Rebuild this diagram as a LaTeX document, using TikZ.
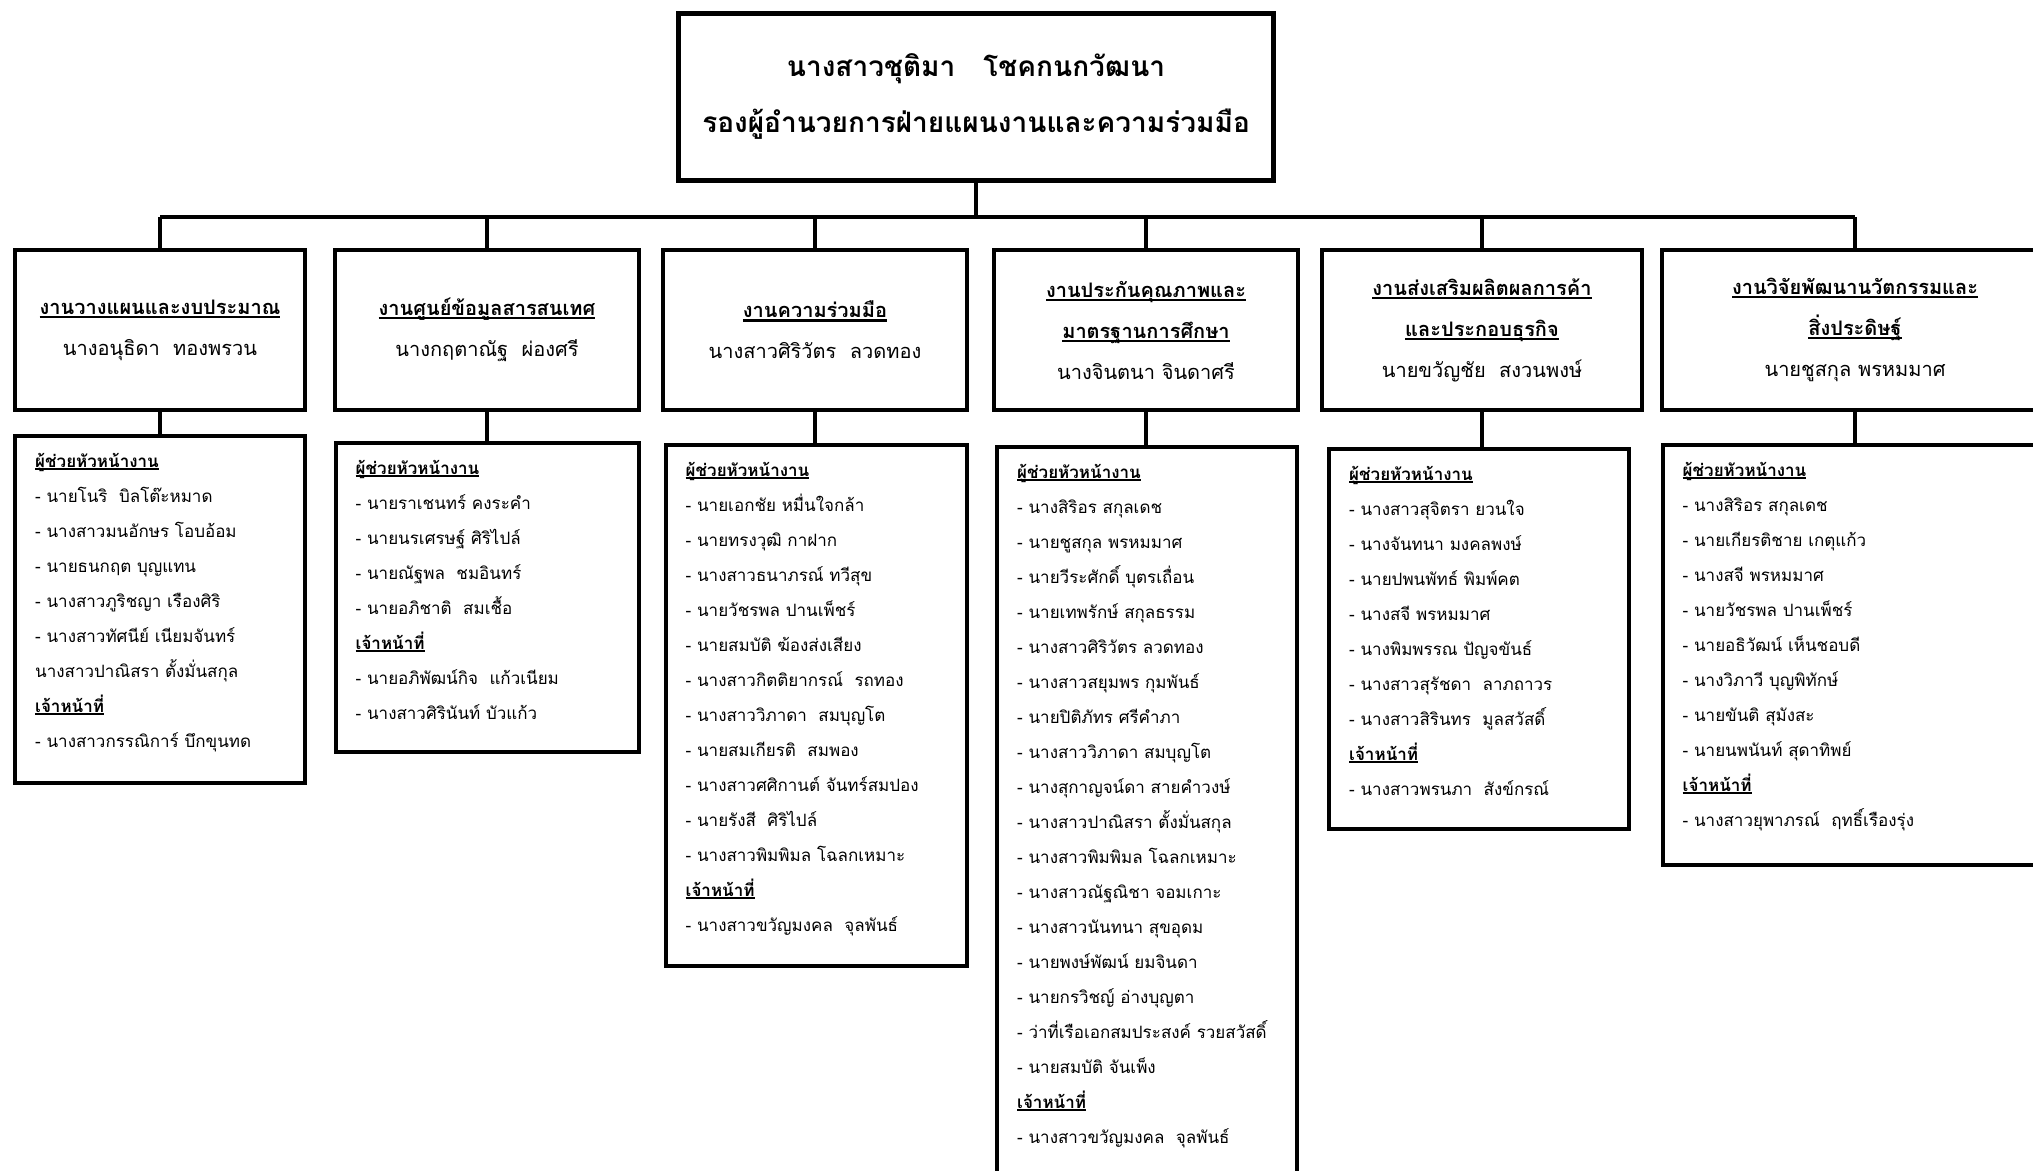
\documentclass[tikz,border=0pt]{standalone}
\usepackage{fontspec}
\newfontfamily\thai[Script=Thai]{Loma}
\newsavebox\ulbox
\newcommand\thul[1]{\leavevmode\sbox\ulbox{\bfseries #1}\rlap{\vrule height -0.08em depth 0.19em width \wd\ulbox}\usebox\ulbox}
\newcommand\topfont{\fontsize{28}{56}\selectfont\thai\bfseries}
\newcommand\secfont{\fontsize{20}{41}\selectfont\thai}
\newcommand\listfont{\fontsize{17}{35}\selectfont\thai}
\tikzset{
  conn/.style={line width=4pt},
  topbox/.style={draw, line width=5pt, minimum width=595pt, minimum height=167pt, inner sep=0pt, align=center, font=\topfont},
  secbox/.style={draw, line width=4pt, inner sep=0pt, minimum height=160pt, align=center, font=\secfont},
  listbox/.style={draw, line width=4pt, inner sep=0pt},
  listtext/.style={anchor=base west, inner sep=0pt, font=\listfont},
}
\newcommand\lst[1]{\parbox[t]{360pt}{\listfont #1}}
\begin{document}
\begin{tikzpicture}[x=1pt,y=-1pt]
\fill[white] (0,0) rectangle (2033,1170);
\useasboundingbox (0,0) rectangle (2033,1170);
% top
\node[topbox] (top) at (976,96.5) {นางสาวชุติมา\quad โชคกนกวัฒนา\\รองผู้อำนวยการฝ่ายแผนงานและความร่วมมือ};
\coordinate (bus) at (0,217);
% sections
\node[secbox, minimum width=290pt] (s1) at (160,330) {\thul{งานวางแผนและงบประมาณ}\\นางอนุธิดา\ \ ทองพรวน};
\node[secbox, minimum width=304pt] (s2) at (487,330) {\thul{งานศูนย์ข้อมูลสารสนเทศ}\\นางกฤตาณัฐ\ \ ผ่องศรี};
\node[secbox, minimum width=304pt] (s3) at (815,330) {\thul{งานความร่วมมือ}\\นางสาวศิริวัตร\ \ ลวดทอง};
\node[secbox, minimum width=304pt] (s4) at (1146,330) {\thul{งานประกันคุณภาพและ}\\\thul{มาตรฐานการศึกษา}\\นางจินตนา\ จินดาศรี};
\node[secbox, minimum width=320pt] (s5) at (1482,330) {\thul{งานส่งเสริมผลิตผลการค้า}\\\thul{และประกอบธุรกิจ}\\นายขวัญชัย\ \ สงวนพงษ์};
\node[secbox, minimum width=386pt] (s6) at (1855,330) {\thul{งานวิจัยพัฒนานวัตกรรมและ}\\\thul{สิ่งประดิษฐ์}\\นายชูสกุล พรหมมาศ};
% connectors top
\draw[conn] (top.south) -- (top.south |- bus);
\draw[conn] (s1.north |- bus) -- (s6.north |- bus);
\foreach \s in {s1,s2,s3,s4,s5,s6} \draw[conn] (\s.north) -- (\s.north |- bus);
% list boxes
\node[listbox, minimum width=290pt, minimum height=347pt] (l1) at (160,609.5) {};
\node[listbox, minimum width=303pt, minimum height=309pt] (l2) at (487,597.5) {};
\node[listbox, minimum width=301pt, minimum height=521pt] (l3) at (816,705.5) {};
\node[listbox, minimum width=300pt, minimum height=738pt] (l4) at (1147,816) {};
\node[listbox, minimum width=300pt, minimum height=380pt] (l5) at (1479,639) {};
\node[listbox, minimum width=387pt, minimum height=420pt] (l6) at (1856,655) {};
\foreach \s/\l in {s1/l1,s2/l2,s3/l3,s4/l4,s5/l5,s6/l6} \draw[conn] (\s.south) -- (\s.south |- \l.north);
% list texts
\node[listtext] (t1) at ([xshift=22pt,yshift=-33pt]l1.north west) {\lst{\thul{ผู้ช่วยหัวหน้างาน}\\
- นายโนริ\ \ บิลโต๊ะหมาด\\
- นางสาวมนอักษร โอบอ้อม\\
- นายธนกฤต บุญแทน\\
- นางสาวภูริชญา เรืองศิริ\\
- นางสาวทัศนีย์ เนียมจันทร์\\
นางสาวปาณิสรา ตั้งมั่นสกุล\\
\thul{เจ้าหน้าที่}\\
- นางสาวกรรณิการ์ บึกขุนทด}};
\node[listtext] (t2) at ([xshift=22pt,yshift=-33pt]l2.north west) {\lst{\thul{ผู้ช่วยหัวหน้างาน}\\
- นายราเชนทร์ คงระคำ\\
- นายนรเศรษฐ์ ศิริไปล์\\
- นายณัฐพล\ \ ชมอินทร์\\
- นายอภิชาติ\ \ สมเชื้อ\\
\thul{เจ้าหน้าที่}\\
- นายอภิพัฒน์กิจ\ \ แก้วเนียม\\
- นางสาวศิรินันท์ บัวแก้ว}};
\node[listtext] (t3) at ([xshift=22pt,yshift=-33pt]l3.north west) {\lst{\thul{ผู้ช่วยหัวหน้างาน}\\
- นายเอกชัย หมื่นใจกล้า\\
- นายทรงวุฒิ กาฝาก\\
- นางสาวธนาภรณ์ ทวีสุข\\
- นายวัชรพล ปานเพ็ชร์\\
- นายสมบัติ ฆ้องส่งเสียง\\
- นางสาวกิตติยากรณ์\ \ รถทอง\\
- นางสาววิภาดา\ \ สมบุญโต\\
- นายสมเกียรติ\ \ สมพอง\\
- นางสาวศศิกานต์ จันทร์สมปอง\\
- นายรังสี\ \ ศิริไปล์\\
- นางสาวพิมพิมล โฉลกเหมาะ\\
\thul{เจ้าหน้าที่}\\
- นางสาวขวัญมงคล\ \ จุลพันธ์}};
\node[listtext] (t4) at ([xshift=22pt,yshift=-33pt]l4.north west) {\lst{\thul{ผู้ช่วยหัวหน้างาน}\\
- นางสิริอร สกุลเดช\\
- นายชูสกุล พรหมมาศ\\
- นายวีระศักดิ์ บุตรเถื่อน\\
- นายเทพรักษ์ สกุลธรรม\\
- นางสาวศิริวัตร ลวดทอง\\
- นางสาวสยุมพร กุมพันธ์\\
- นายปิติภัทร ศรีคำภา\\
- นางสาววิภาดา สมบุญโต\\
- นางสุกาญจน์ดา สายคำวงษ์\\
- นางสาวปาณิสรา ตั้งมั่นสกุล\\
- นางสาวพิมพิมล โฉลกเหมาะ\\
- นางสาวณัฐณิชา จอมเกาะ\\
- นางสาวนันทนา สุขอุดม\\
- นายพงษ์พัฒน์ ยมจินดา\\
- นายกรวิชญ์ อ่างบุญตา\\
- ว่าที่เรือเอกสมประสงค์ รวยสวัสดิ์\\
- นายสมบัติ จันเพ็ง\\
\thul{เจ้าหน้าที่}\\
- นางสาวขวัญมงคล\ \ จุลพันธ์}};
\node[listtext] (t5) at ([xshift=22pt,yshift=-33pt]l5.north west) {\lst{\thul{ผู้ช่วยหัวหน้างาน}\\
- นางสาวสุจิตรา ยวนใจ\\
- นางจันทนา มงคลพงษ์\\
- นายปพนพัทธ์ พิมพ์คต\\
- นางสจี พรหมมาศ\\
- นางพิมพรรณ ปัญจขันธ์\\
- นางสาวสุรัชดา\ \ ลาภถาวร\\
- นางสาวสิรินทร\ \ มูลสวัสดิ์\\
\thul{เจ้าหน้าที่}\\
- นางสาวพรนภา\ \ สังข์กรณ์}};
\node[listtext] (t6) at ([xshift=22pt,yshift=-33pt]l6.north west) {\lst{\thul{ผู้ช่วยหัวหน้างาน}\\
- นางสิริอร สกุลเดช\\
- นายเกียรติชาย เกตุแก้ว\\
- นางสจี พรหมมาศ\\
- นายวัชรพล ปานเพ็ชร์\\
- นายอธิวัฒน์ เห็นชอบดี\\
- นางวิภาวี บุญพิทักษ์\\
- นายขันติ สุมังสะ\\
- นายนพนันท์ สุดาทิพย์\\
\thul{เจ้าหน้าที่}\\
- นางสาวยุพาภรณ์\ \ ฤทธิ์เรืองรุ่ง}};
\end{tikzpicture}
\end{document}
